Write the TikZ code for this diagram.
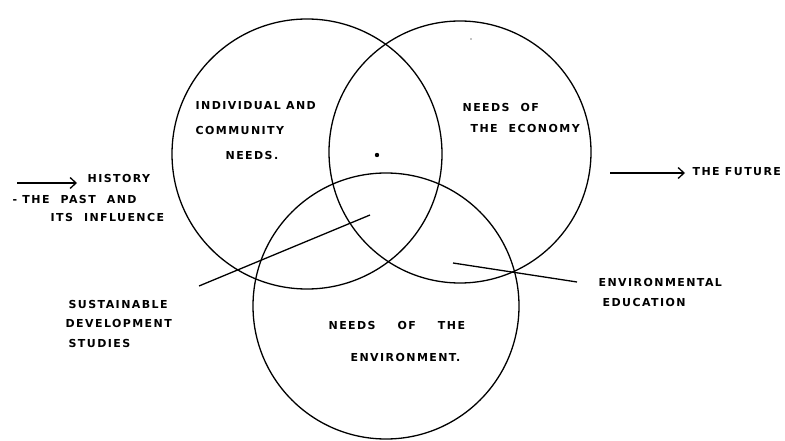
\documentclass[tikz,border=0pt]{standalone}
\usepackage{fontspec}
\newfontfamily\handfont{DejaVu Sans}[LetterSpace=13]
\usetikzlibrary{arrows.meta}

\begin{document}
\begin{tikzpicture}[x=1pt,y=-1pt,line width=1.3pt,
  hand/.style={font=\handfont\bfseries\fontsize{11}{13}\selectfont,
    anchor=west,inner sep=0pt},
  timeline/.style={-{Straight Barb[length=6pt,width=11pt]}}]
  \useasboundingbox (0,0) rectangle (785,441);
  % Three overlapping needs: individual, economy, environment.
  \coordinate (ind) at (307,154);
  \coordinate (eco) at (460,152);
  \coordinate (env) at (386,306);
  \draw (ind) circle[radius=135pt];
  \draw (eco) circle[radius=131pt];
  \draw (env) circle[radius=133pt];
  % labels inside the circles
  \node[hand] (ind1) at (195,106) {INDIVIDUAL AND};
  \node[hand] (ind2) at (195,130) {COMMUNITY};
  \node[hand] (ind3) at (225,155) {NEEDS.};
  \node[hand] (eco1) at (462,107) {NEEDS\quad OF};
  \node[hand] (eco2) at (470,128) {THE\quad ECONOMY};
  \node[hand] (env1) at (328,325) {NEEDS\qquad OF\qquad THE};
  \node[hand] (env2) at (350,357) {ENVIRONMENT.};
  % past and future
  \coordinate (histA) at (17,183);
  \coordinate (histB) at (77,183);
  \draw[timeline] (histA) -- (histB);
  \node[hand] (hist) at (87,178) {HISTORY};
  \node[hand] (past) at (12,199) {- THE\quad PAST\quad AND};
  \node[hand] (infl) at (50,217) {ITS\quad INFLUENCE};
  \coordinate (futA) at (610,173);
  \coordinate (futB) at (685,173);
  \draw[timeline] (futA) -- (futB);
  \node[hand] (fut) at (692,172) {THE FUTURE};
  % pointers into the overlaps
  \coordinate (sdsTip) at (370,215);
  \coordinate (sdsEnd) at (199,286);
  \draw (sdsEnd) -- (sdsTip);
  \node[hand] (sds1) at (68,304) {SUSTAINABLE};
  \node[hand] (sds2) at (65,323) {DEVELOPMENT};
  \node[hand] (sds3) at (68,343) {STUDIES};
  \coordinate (eeTip) at (453,263);
  \coordinate (eeEnd) at (577,282);
  \draw (eeTip) -- (eeEnd);
  \node[hand] (ee1) at (598,282) {ENVIRONMENTAL};
  \node[hand] (ee2) at (602,302) {EDUCATION};
  \fill (377,155) circle[radius=2.2pt];
  \fill (471,39) circle[radius=0.7pt];
\end{tikzpicture}
\end{document}
